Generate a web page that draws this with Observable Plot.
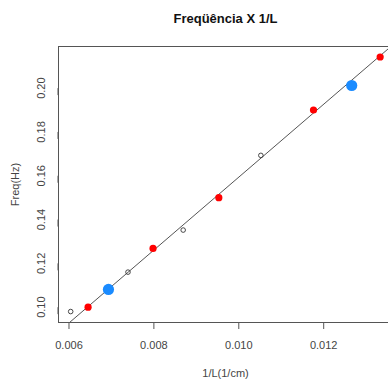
<!DOCTYPE html>
<html>
<head>
<meta charset="utf-8">
<script src="https://cdn.jsdelivr.net/npm/d3@7"></script>
<script src="https://cdn.jsdelivr.net/npm/@observablehq/plot@0.6"></script>
<style>
  html, body { margin: 0; padding: 0; background: #fff; }
  svg { font-family: "Liberation Sans", Arial, sans-serif; }
</style>
</head>
<body>
<div id="chart"></div>
<script>
const title = "Freqüência X 1/L";
const xLabel = "1/L(1/cm)";
const yLabel = "Freq(Hz)";

const openX = [0.00604, 0.00739, 0.00869, 0.01052];
const openY = [0.0980, 0.1160, 0.1352, 0.1693];
const redX = [0.00645, 0.00798, 0.00953, 0.01176, 0.01333];
const redY = [0.1000, 0.1268, 0.1500, 0.1900, 0.2142];
const blueX = [0.00693, 0.01266];
const blueY = [0.1081, 0.2012];

const xTicks = [0.006, 0.008, 0.010, 0.012];
const yTicks = [0.10, 0.12, 0.14, 0.16, 0.18, 0.20];
const xDomain = [0.005753, 0.013621];
const yDomain = [0.0930, 0.2190];

const openPts = openX.map((x, i) => ({x, y: openY[i]}));
const redPts = redX.map((x, i) => ({x, y: redY[i]}));
const bluePts = blueX.map((x, i) => ({x, y: blueY[i]}));

// least squares fit on the filled (red) points
const mx = d3.mean(redX), my = d3.mean(redY);
const slope = d3.sum(redX, (x, i) => (x - mx) * (redY[i] - my)) / d3.sum(redX, x => (x - mx) ** 2);
const intercept = my - slope * mx;
const fitLine = xDomain.map(x => ({x, y: intercept + slope * x}));

const chart = Plot.plot({
  width: 388,
  height: 381,
  marginLeft: 58,
  marginRight: -4,
  marginTop: 46,
  marginBottom: 59,
  style: {fontFamily: '"Liberation Sans", Arial, sans-serif', fontSize: "11px", color: "#444"},
  x: {domain: xDomain},
  y: {domain: yDomain},
  marks: [
    Plot.line(fitLine, {x: "x", y: "y", stroke: "#555", strokeWidth: 1, clip: true}),
    Plot.dot(openPts, {x: "x", y: "y", r: 2.3, stroke: "#333", strokeWidth: 0.9, fill: "none"}),
    Plot.dot(redPts, {x: "x", y: "y", r: 3.6, fill: "#ff0000", stroke: "none"}),
    Plot.dot(bluePts, {x: "x", y: "y", r: 5.6, fill: "#1a8bff", stroke: "none"}),
    Plot.frame({stroke: "#555", strokeWidth: 1}),
    Plot.axisX({ticks: xTicks, tickFormat: ".3f", tickSize: 7, tickPadding: 12, label: null, stroke: "#555", fill: "#444"}),
    Plot.axisY({ticks: yTicks, tickFormat: ".2f", tickSize: 7, tickPadding: 10, rotate: -90, textAnchor: "middle", label: null, stroke: "#555", fill: "#444"}),
    Plot.text([title], {frameAnchor: "top", dy: -28, lineAnchor: "middle", fontWeight: "bold", fontSize: 13, fill: "#111"}),
    Plot.text([xLabel], {frameAnchor: "bottom", dy: 47, lineAnchor: "top", fontSize: 11, fill: "#444"}),
    Plot.text([yLabel], {frameAnchor: "left", dx: -43, rotate: -90, textAnchor: "middle", lineAnchor: "middle", fontSize: 11, fill: "#444"})
  ]
});
document.getElementById("chart").appendChild(chart);
</script>
</body>
</html>
